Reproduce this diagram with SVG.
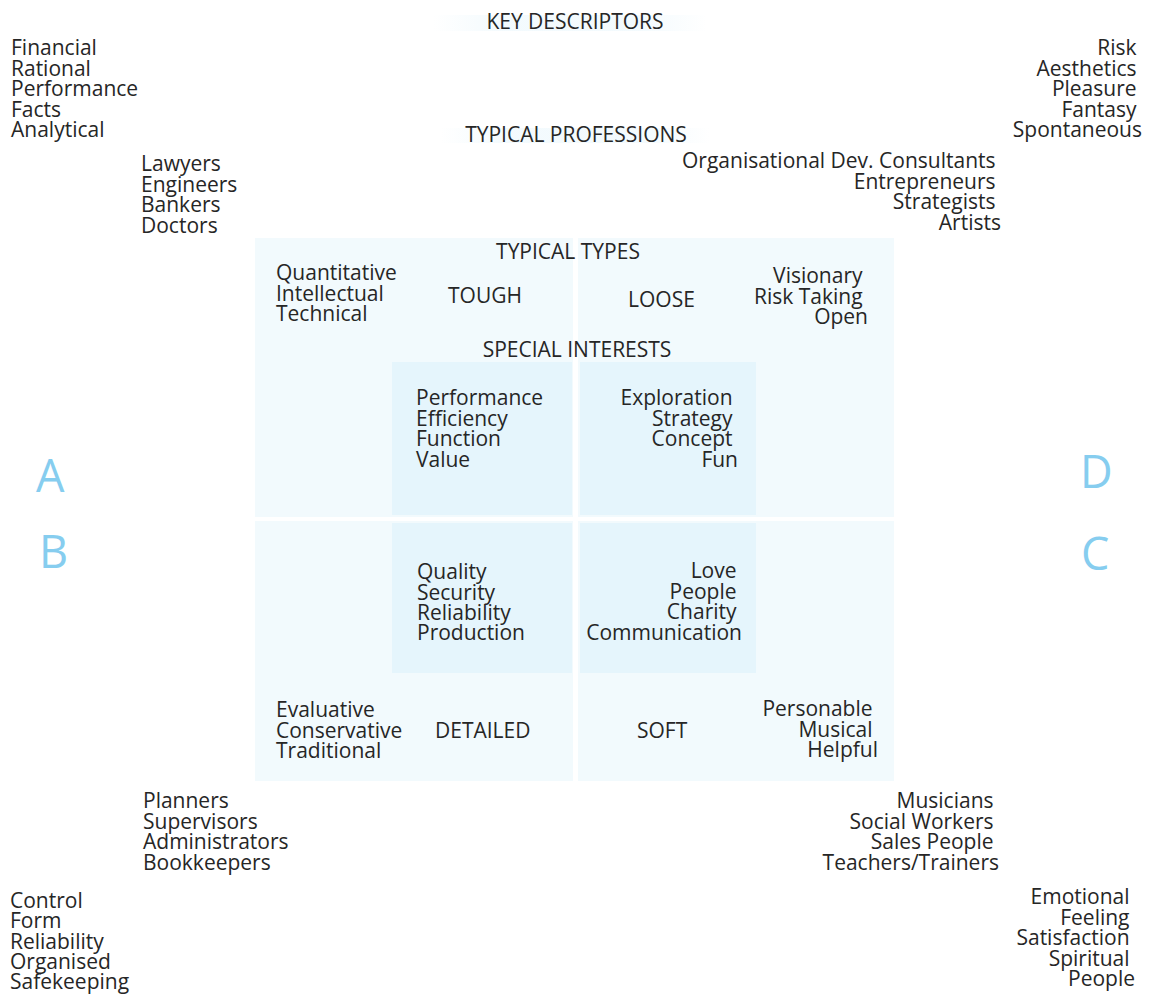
<svg xmlns="http://www.w3.org/2000/svg" width="1153" height="996" viewBox="0 0 1153 996">
  <style>
    .t { font-family: "Open Sans", "Noto Sans", "Liberation Sans", sans-serif; font-size: 21px; fill: #262626; }
    .s { text-anchor: start; }
    .e { text-anchor: end; }
    .m { text-anchor: middle; }
    .big { font-family: "Open Sans", "Noto Sans", "Liberation Sans", sans-serif; font-size: 45px; fill: #86cdef; font-weight: 400; }
    .outer { fill: #f2fafd; }
    .inner { fill: #e5f5fc; }
  </style>
  <defs>
    <linearGradient id="band" x1="0" y1="0" x2="1" y2="0">
      <stop offset="0" stop-color="#e8f6fc" stop-opacity="0"/>
      <stop offset="0.25" stop-color="#e8f6fc" stop-opacity="0.5"/>
      <stop offset="0.75" stop-color="#e8f6fc" stop-opacity="0.5"/>
      <stop offset="1" stop-color="#e8f6fc" stop-opacity="0"/>
    </linearGradient>
  </defs>

  <rect width="1153" height="996" fill="#ffffff"/>

  <!-- quadrant panels -->
  <g id="panels">
    <rect class="outer" x="255" y="238" width="318" height="279"/>
    <rect class="outer" x="578" y="238" width="316" height="279"/>
    <rect class="outer" x="255" y="521" width="318" height="260"/>
    <rect class="outer" x="578" y="521" width="316" height="260"/>
    <rect class="inner" x="392" y="362" width="180" height="153"/>
    <rect class="inner" x="580" y="362" width="176" height="153"/>
    <rect class="inner" x="392" y="523" width="180" height="150"/>
    <rect class="inner" x="580" y="523" width="176" height="150"/>
  </g>

  <!-- faint bands behind the headings -->
  <g id="heading-bands">
    <rect x="433" y="15" width="274" height="16" fill="url(#band)"/>
    <rect x="440" y="128" width="270" height="15" fill="url(#band)"/>
  </g>

  <g id="connectors"></g>

  <!-- headings -->
  <g id="headings">
    <text class="t m" x="575" y="29">KEY DESCRIPTORS</text>
    <text class="t m" x="576" y="142">TYPICAL PROFESSIONS</text>
    <text class="t m" x="568" y="259">TYPICAL TYPES</text>
    <text class="t m" x="577" y="357">SPECIAL INTERESTS</text>
  </g>

  <!-- quadrant letters -->
  <g id="letters">
    <text class="big s" x="36" y="492">A</text>
    <text class="big s" x="39" y="568">B</text>
    <text class="big s" x="1080" y="488">D</text>
    <text class="big s" x="1081" y="570">C</text>
  </g>

  <!-- A quadrant -->
  <g id="a-descriptors">
    <text class="t s">
      <tspan x="11" y="55">Financial</tspan>
      <tspan x="11" y="75.5">Rational</tspan>
      <tspan x="11" y="96">Performance</tspan>
      <tspan x="11" y="116.5">Facts</tspan>
      <tspan x="11" y="137">Analytical</tspan>
    </text>
  </g>
  <g id="a-professions">
    <text class="t s">
      <tspan x="141" y="171">Lawyers</tspan>
      <tspan x="141" y="191.5">Engineers</tspan>
      <tspan x="141" y="212">Bankers</tspan>
      <tspan x="141" y="232.5">Doctors</tspan>
    </text>
  </g>
  <g id="a-types">
    <text class="t s">
      <tspan x="276" y="280">Quantitative</tspan>
      <tspan x="276" y="301">Intellectual</tspan>
      <tspan x="276" y="321">Technical</tspan>
    </text>
    <text class="t s" x="448" y="303">TOUGH</text>
  </g>
  <g id="a-interests">
    <text class="t s">
      <tspan x="416" y="405">Performance</tspan>
      <tspan x="416" y="425.5">Efficiency</tspan>
      <tspan x="416" y="446">Function</tspan>
      <tspan x="416" y="466.5">Value</tspan>
    </text>
  </g>

  <!-- D quadrant -->
  <g id="d-descriptors">
    <text class="t e">
      <tspan x="1142" y="55">Risk</tspan>
      <tspan x="1142" y="75.5">Aesthetics</tspan>
      <tspan x="1142" y="96">Pleasure</tspan>
      <tspan x="1142" y="116.5">Fantasy</tspan>
      <tspan x="1142" y="137">Spontaneous</tspan>
    </text>
  </g>
  <g id="d-professions">
    <text class="t e">
      <tspan x="1001" y="168">Organisational Dev. Consultants</tspan>
      <tspan x="1001" y="188.5">Entrepreneurs</tspan>
      <tspan x="1001" y="209">Strategists</tspan>
      <tspan x="1001" y="229.5">Artists</tspan>
    </text>
  </g>
  <g id="d-types">
    <text class="t s" x="628" y="307">LOOSE</text>
    <text class="t e">
      <tspan x="868" y="283">Visionary</tspan>
      <tspan x="868" y="303.5">Risk Taking</tspan>
      <tspan x="868" y="324">Open</tspan>
    </text>
  </g>
  <g id="d-interests">
    <text class="t e">
      <tspan x="738" y="405">Exploration</tspan>
      <tspan x="738" y="425.5">Strategy</tspan>
      <tspan x="738" y="446">Concept</tspan>
      <tspan x="738" y="466.5">Fun</tspan>
    </text>
  </g>

  <!-- B quadrant -->
  <g id="b-interests">
    <text class="t s">
      <tspan x="417" y="579">Quality</tspan>
      <tspan x="417" y="599.5">Security</tspan>
      <tspan x="417" y="620">Reliability</tspan>
      <tspan x="417" y="640">Production</tspan>
    </text>
  </g>
  <g id="b-types">
    <text class="t s">
      <tspan x="276" y="717">Evaluative</tspan>
      <tspan x="276" y="737.5">Conservative</tspan>
      <tspan x="276" y="758">Traditional</tspan>
    </text>
    <text class="t s" x="435" y="738">DETAILED</text>
  </g>
  <g id="b-professions">
    <text class="t s">
      <tspan x="143" y="808">Planners</tspan>
      <tspan x="143" y="828.5">Supervisors</tspan>
      <tspan x="143" y="849">Administrators</tspan>
      <tspan x="143" y="869.5">Bookkeepers</tspan>
    </text>
  </g>
  <g id="b-descriptors">
    <text class="t s">
      <tspan x="10" y="908">Control</tspan>
      <tspan x="10" y="928">Form</tspan>
      <tspan x="10" y="948.5">Reliability</tspan>
      <tspan x="10" y="969">Organised</tspan>
      <tspan x="10" y="989">Safekeeping</tspan>
    </text>
  </g>

  <!-- C quadrant -->
  <g id="c-interests">
    <text class="t e">
      <tspan x="742" y="578">Love</tspan>
      <tspan x="742" y="598.5">People</tspan>
      <tspan x="742" y="619">Charity</tspan>
      <tspan x="742" y="639.5">Communication</tspan>
    </text>
  </g>
  <g id="c-types">
    <text class="t s" x="637" y="738">SOFT</text>
    <text class="t e">
      <tspan x="878" y="716">Personable</tspan>
      <tspan x="878" y="736.5">Musical</tspan>
      <tspan x="878" y="757">Helpful</tspan>
    </text>
  </g>
  <g id="c-professions">
    <text class="t e">
      <tspan x="999" y="808">Musicians</tspan>
      <tspan x="999" y="828.5">Social Workers</tspan>
      <tspan x="999" y="849">Sales People</tspan>
      <tspan x="999" y="869.5">Teachers/Trainers</tspan>
    </text>
  </g>
  <g id="c-descriptors">
    <text class="t e">
      <tspan x="1135" y="904">Emotional</tspan>
      <tspan x="1135" y="924.5">Feeling</tspan>
      <tspan x="1135" y="945">Satisfaction</tspan>
      <tspan x="1135" y="965.5">Spiritual</tspan>
      <tspan x="1135" y="986">People</tspan>
    </text>
  </g>
</svg>
